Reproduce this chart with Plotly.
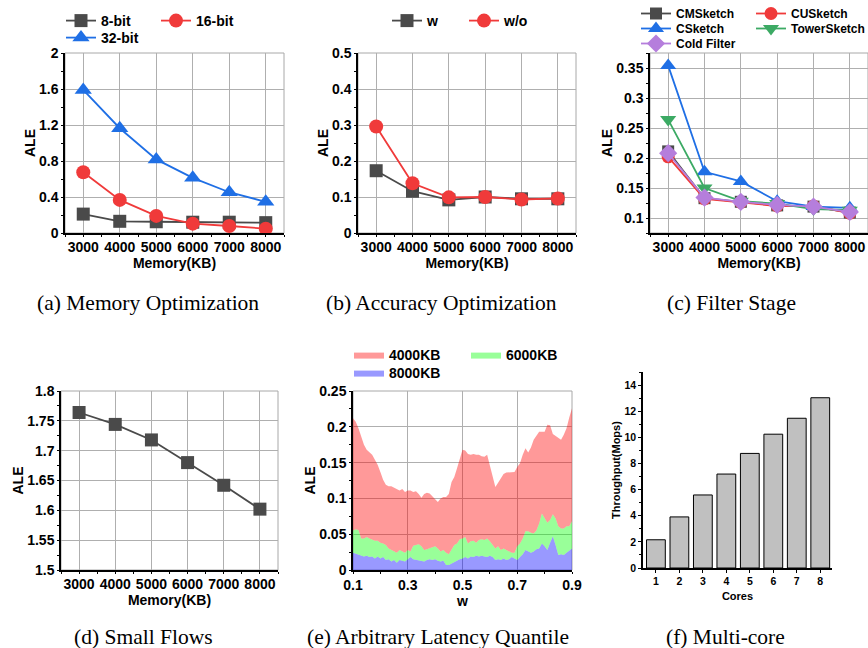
import plotly.graph_objects as go

# ---------------- data ----------------
memory_kb = [3000, 4000, 5000, 6000, 7000, 8000]

# (a) Memory Optimization
ale_8bit = [0.21, 0.13, 0.125, 0.12, 0.12, 0.115]
ale_16bit = [0.675, 0.368, 0.19, 0.104, 0.078, 0.048]
ale_32bit = [1.59, 1.164, 0.818, 0.613, 0.453, 0.346]

# (b) Accuracy Optimization
ale_w = [0.173, 0.116, 0.092, 0.100, 0.095, 0.095]
ale_wo = [0.296, 0.138, 0.099, 0.100, 0.093, 0.096]

# (c) Filter Stage
ale_cm = [0.211, 0.133, 0.127, 0.121, 0.119, 0.109]
ale_cu = [0.202, 0.132, 0.126, 0.120, 0.120, 0.108]
ale_cs = [0.354, 0.177, 0.161, 0.128, 0.119, 0.117]
ale_tower = [0.264, 0.150, 0.128, 0.124, 0.115, 0.113]
ale_cold = [0.208, 0.134, 0.127, 0.122, 0.119, 0.110]

# (d) Small Flows
ale_small = [1.764, 1.744, 1.718, 1.680, 1.642, 1.602]

# (e) Arbitrary Latency Quantile
w_values = [0.10, 0.11, 0.12, 0.13, 0.14, 0.15, 0.16, 0.17, 0.18, 0.19,
            0.20, 0.21, 0.22, 0.23, 0.24, 0.25, 0.26, 0.27, 0.28, 0.29,
            0.30, 0.31, 0.32, 0.33, 0.34, 0.35, 0.36, 0.37, 0.38, 0.39,
            0.40, 0.41, 0.42, 0.43, 0.44, 0.45, 0.46, 0.47, 0.48, 0.49,
            0.50, 0.51, 0.52, 0.53, 0.54, 0.55, 0.56, 0.57, 0.58, 0.59,
            0.60, 0.61, 0.62, 0.63, 0.64, 0.65, 0.66, 0.67, 0.68, 0.69,
            0.70, 0.71, 0.72, 0.73, 0.74, 0.75, 0.76, 0.77, 0.78, 0.79,
            0.80, 0.81, 0.82, 0.83, 0.84, 0.85, 0.86, 0.87, 0.88, 0.89, 0.90]
ale_4000kb = [0.212, 0.207, 0.198, 0.186, 0.175, 0.168, 0.164, 0.161, 0.154, 0.147,
              0.137, 0.126, 0.119, 0.117, 0.117, 0.115, 0.114, 0.111, 0.113, 0.109,
              0.111, 0.111, 0.109, 0.110, 0.106, 0.101, 0.106, 0.108, 0.107, 0.103,
              0.098, 0.095, 0.100, 0.102, 0.102, 0.106, 0.123, 0.130, 0.142, 0.156,
              0.168, 0.167, 0.162, 0.161, 0.162, 0.161, 0.161, 0.159, 0.158, 0.161,
              0.147, 0.133, 0.116, 0.122, 0.128, 0.134, 0.136, 0.136, 0.136, 0.137,
              0.144, 0.149, 0.161, 0.170, 0.164, 0.171, 0.182, 0.187, 0.193, 0.193,
              0.193, 0.203, 0.202, 0.190, 0.187, 0.184, 0.182, 0.189, 0.198, 0.213, 0.226]
ale_6000kb = [0.055, 0.057, 0.056, 0.044, 0.044, 0.046, 0.044, 0.042, 0.041, 0.041,
              0.038, 0.037, 0.035, 0.030, 0.028, 0.027, 0.024, 0.028, 0.026, 0.024,
              0.028, 0.026, 0.034, 0.035, 0.036, 0.033, 0.028, 0.029, 0.030, 0.032,
              0.033, 0.030, 0.026, 0.028, 0.024, 0.022, 0.028, 0.035, 0.037, 0.043,
              0.044, 0.046, 0.037, 0.040, 0.041, 0.038, 0.042, 0.043, 0.042, 0.044,
              0.040, 0.035, 0.030, 0.033, 0.028, 0.030, 0.028, 0.026, 0.024, 0.024,
              0.033, 0.037, 0.044, 0.054, 0.054, 0.052, 0.051, 0.055, 0.065, 0.079,
              0.072, 0.066, 0.070, 0.078, 0.072, 0.061, 0.058, 0.058, 0.061, 0.061, 0.068]
ale_8000kb = [0.024, 0.023, 0.022, 0.020, 0.019, 0.020, 0.018, 0.019, 0.016, 0.019,
              0.016, 0.018, 0.014, 0.015, 0.012, 0.014, 0.010, 0.014, 0.013, 0.012,
              0.015, 0.018, 0.015, 0.014, 0.013, 0.013, 0.012, 0.014, 0.015, 0.014,
              0.015, 0.013, 0.012, 0.013, 0.007, 0.007, 0.009, 0.012, 0.013, 0.015,
              0.016, 0.018, 0.016, 0.019, 0.018, 0.020, 0.019, 0.020, 0.019, 0.018,
              0.020, 0.018, 0.014, 0.015, 0.014, 0.016, 0.014, 0.015, 0.018, 0.016,
              0.014, 0.018, 0.022, 0.028, 0.026, 0.024, 0.026, 0.029, 0.030, 0.037,
              0.033, 0.028, 0.038, 0.047, 0.035, 0.021, 0.022, 0.021, 0.024, 0.027, 0.030]

# (f) Multi-core
cores = [1, 2, 3, 4, 5, 6, 7, 8]
throughput_mops = [2.16, 3.91, 5.59, 7.19, 8.77, 10.24, 11.46, 13.03]

# ---------------- styling ----------------
W, H = 868, 648
SANS = "Liberation Sans"
SERIF = "Liberation Serif"
GRAY = "#4A4A4A"
RED = "#F03A3A"
BLUE = "#1F6FE5"
GREEN = "#3CAA64"
PURPLE = "#B57EDC"


def px(x):
    return x / W


def py(y):
    return 1 - y / H


fig = go.Figure()
legends = {}


def make_legend(lid, left, top, size):
    # one legend box per entry so each entry can sit where the reference has it
    legends[lid] = dict(x=px(left), y=py(top), xanchor="left", yanchor="top",
                        orientation="v", bgcolor="rgba(0,0,0,0)", borderwidth=0,
                        font=dict(family=SANS, size=size, weight="bold", color="black"),
                        itemclick=False, itemdoubleclick=False)
    return lid


def line_trace(x, y, name, color, symbol, size, xa, ya, legend=None):
    fig.add_trace(go.Scatter(
        x=x, y=y, name=name, mode="lines+markers",
        line=dict(color=color, width=1.8),
        marker=dict(symbol=symbol, size=size, color=color,
                    line=dict(color=color, width=0)),
        xaxis=xa, yaxis=ya, legend=legend, showlegend=legend is not None))


# (a)
line_trace(memory_kb, ale_8bit, "8-bit", GRAY, "square", 13, "x", "y",
           make_legend("legend", 61, 5, 14))
line_trace(memory_kb, ale_16bit, "16-bit", RED, "circle", 14, "x", "y",
           make_legend("legend2", 156, 5, 14))
line_trace(memory_kb, ale_32bit, "32-bit", BLUE, "triangle-up", 15, "x", "y",
           make_legend("legend3", 61, 22, 14))
# (b)
line_trace(memory_kb, ale_w, "w", GRAY, "square", 13, "x2", "y2",
           make_legend("legend4", 387, 5, 14))
line_trace(memory_kb, ale_wo, "w/o", RED, "circle", 14, "x2", "y2",
           make_legend("legend5", 464, 5, 14))
# (c)
line_trace(memory_kb, ale_cm, "CMSketch", GRAY, "square", 12, "x3", "y3",
           make_legend("legend6", 636, -1, 12))
line_trace(memory_kb, ale_cu, "CUSketch", RED, "circle", 13, "x3", "y3",
           make_legend("legend7", 751, -1, 12))
line_trace(memory_kb, ale_cs, "CSketch", BLUE, "triangle-up", 14, "x3", "y3",
           make_legend("legend8", 636, 14, 12))
line_trace(memory_kb, ale_tower, "TowerSketch", GREEN, "triangle-down", 14, "x3", "y3",
           make_legend("legend9", 751, 14, 12))
line_trace(memory_kb, ale_cold, "Cold Filter", PURPLE, "diamond", 14, "x3", "y3",
           make_legend("legend10", 636, 29, 12))
# (d)
line_trace(memory_kb, ale_small, "Small flows", GRAY, "square", 13, "x4", "y4", None)

# (e) areas (filled between consecutive curves)
fig.add_trace(go.Scatter(x=w_values, y=ale_8000kb, name="8000KB", mode="lines",
                         line=dict(width=0, color="rgba(0,0,255,0.4)"),
                         fill="tozeroy", fillcolor="rgba(0,0,255,0.4)",
                         xaxis="x5", yaxis="y5",
                         legend=make_legend("legend11", 349, 357, 14)))
fig.add_trace(go.Scatter(x=w_values, y=ale_6000kb, name="6000KB", mode="lines",
                         line=dict(width=0, color="rgba(0,255,0,0.4)"),
                         fill="tonexty", fillcolor="rgba(0,255,0,0.4)",
                         xaxis="x5", yaxis="y5",
                         legend=make_legend("legend12", 466, 339, 14)))
fig.add_trace(go.Scatter(x=w_values, y=ale_4000kb, name="4000KB", mode="lines",
                         line=dict(width=0, color="rgba(255,0,0,0.4)"),
                         fill="tonexty", fillcolor="rgba(255,0,0,0.4)",
                         xaxis="x5", yaxis="y5",
                         legend=make_legend("legend13", 349, 339, 14)))

# (f)
fig.add_trace(go.Bar(x=cores, y=throughput_mops, width=0.8,
                     marker=dict(color="#C0C0C0", line=dict(color="black", width=1)),
                     xaxis="x6", yaxis="y6", showlegend=False))

# ---------------- axes ----------------
TICKFONT = dict(family=SANS, size=14, weight="bold", color="black")
TITLEFONT = dict(family=SANS, size=14, weight="bold", color="black")


def axis(domain, anchor, rng, dtick, tick0, title, minor_dtick, grid=True,
         tickfont=TICKFONT, titlefont=TITLEFONT, standoff=0, ticklen=2,
         labelshift=0):
    return dict(domain=domain, anchor=anchor, range=rng, dtick=dtick, tick0=tick0,
                automargin=False,
                showline=True, linecolor="black", linewidth=1.5,
                ticks="outside", ticklen=ticklen, tickwidth=1, tickcolor="black",
                ticklabelstandoff=labelshift,
                showgrid=grid, gridcolor="#AFAFAF", gridwidth=1, zeroline=False,
                tickfont=tickfont,
                title=dict(text=title, font=titlefont, standoff=standoff),
                minor=dict(ticks="outside", ticklen=2, tickcolor="black",
                           dtick=minor_dtick, tick0=tick0, showgrid=False),
                fixedrange=True)


top_y = [py(233), py(53)]
bot_y = [py(570), py(391)]
XR = [2500, 8500]

layout_axes = dict(
    xaxis=axis([px(65), px(284)], "y", XR, 1000, 3000, "Memory(KB)", 500, labelshift=-2),
    yaxis=axis(top_y, "x", [0, 2], 0.4, 0, "ALE", 0.2),
    xaxis2=axis([px(358), px(576)], "y2", XR, 1000, 3000, "Memory(KB)", 500, labelshift=-2),
    yaxis2=axis(top_y, "x2", [0, 0.5], 0.1, 0, "ALE", 0.05),
    xaxis3=axis([px(650), 1.0], "y3", XR, 1000, 3000, "Memory(KB)", 500, labelshift=-2),
    yaxis3=axis(top_y, "x3", [0.075, 0.375], 0.05, 0.1, "ALE", 0.025),
    xaxis4=axis([px(61), px(278)], "y4", XR, 1000, 3000, "Memory(KB)", 500, labelshift=-2),
    yaxis4=axis(bot_y, "x4", [1.5, 1.8], 0.05, 1.5, "ALE", 0.025),
    xaxis5=axis([px(353), px(572)], "y5", [0.1, 0.9], 0.2, 0.1, "w", 0.1, labelshift=-1),
    yaxis5=axis(bot_y, "x5", [0, 0.25], 0.05, 0, "ALE", 0.025),
    xaxis6=axis([px(643), px(832)], "y6", [0.45, 8.5], 1, 1, "Cores", 1, grid=False,
                tickfont=dict(family=SANS, size=10.5, weight="bold", color="black"),
                titlefont=dict(family=SANS, size=11, weight="bold", color="black"),
                standoff=6, ticklen=3),
    yaxis6=axis([py(568), py(372)], "x6", [0, 15], 2, 0, "Throughput(Mops)", 1, grid=False,
                tickfont=dict(family=SANS, size=10.5, weight="bold", color="black"),
                titlefont=dict(family=SANS, size=11, weight="bold", color="black"),
                standoff=2, ticklen=3),
)
layout_axes["xaxis6"]["minor"] = dict(ticks="")

# gray frames (top/right) for panels a-e
shapes = []
for xa, ya in [("x", "y"), ("x2", "y2"), ("x3", "y3"), ("x4", "y4"), ("x5", "y5")]:
    shapes.append(dict(type="rect", xref=f"{xa} domain", yref=f"{ya} domain",
                       x0=0, x1=1, y0=0, y1=1, layer="below",
                       line=dict(color="#A8A8A8", width=1)))

captions = [
    ("(a) Memory Optimization", 148, 303),
    ("(b) Accuracy Optimization", 442, 303),
    ("(c) Filter Stage", 731, 303),
    ("(d) Small Flows", 143, 637),
    ("(e) Arbitrary Latency Quantile", 438, 637),
    ("(f) Multi-core", 725, 637),
]
annotations = [dict(text=t, x=px(cx), y=py(cy), xref="paper", yref="paper",
                    xanchor="center", yanchor="middle", showarrow=False,
                    font=dict(family=SERIF, size=21.5, weight="normal", color="black"))
               for t, cx, cy in captions]

fig.update_layout(
    template="none",
    width=W, height=H, margin=dict(l=0, r=0, t=0, b=0, autoexpand=False),
    paper_bgcolor="white", plot_bgcolor="white",
    font=dict(family=SANS, size=14, color="black"),
    shapes=shapes, annotations=annotations,
    bargap=0.2,
    **layout_axes, **legends,
)

fig.write_html("out.html",
               config={"displayModeBar": False},
               post_script="document.body.style.margin='0';"
                           "document.body.style.overflow='hidden';")
